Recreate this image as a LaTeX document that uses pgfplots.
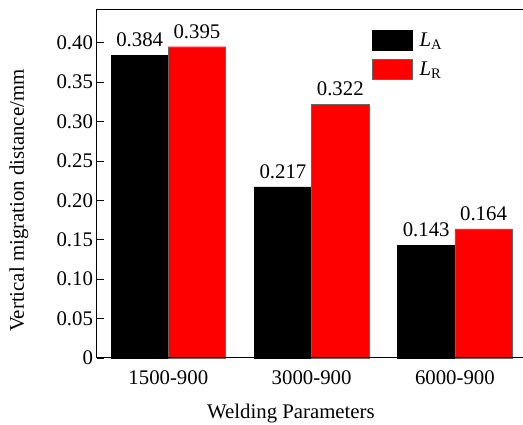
\documentclass[border=0pt]{standalone}
\usepackage{fontspec}
\setmainfont{Liberation Serif}
\usepackage{pgfplots}
\pgfplotsset{compat=1.18}
\begin{document}
\begin{tikzpicture}
\path[use as bounding box] (-96.7pt,-67pt) rectangle (426.3pt,358pt);
\clip (-96.7pt,-67pt) rectangle (426.3pt,358pt);
\begin{axis}[
  at={(0pt,0pt)}, anchor=south west,
  scale only axis,
  width=429.8pt, height=348pt,
  xmin=-0.5, xmax=2.5,
  ymin=0, ymax=0.4416,
  ybar,
  bar width=0.4,
  clip=false,
  axis line style={draw=none},
  /pgf/number format/assume math mode=true,
  font=\fontsize{20.8}{24}\selectfont,
  xtick={0,1,2},
  xticklabels={1500-900,3000-900,6000-900},
  major x tick style={draw=none},
  xticklabel style={inner sep=0pt, yshift=-5pt},
  ytick={0,0.05,0.10,0.15,0.20,0.25,0.30,0.35,0.40},
  yticklabels={0,0.05,0.10,0.15,0.20,0.25,0.30,0.35,0.40},
  yticklabel style={inner sep=0pt, xshift=-3.5pt},
  ytick pos=left,
  ytick align=inside,
  major tick length=7pt,
  ytick style={line width=0.9pt, black},
  xlabel={Welding Parameters},
  xlabel style={at={(axis description cs:0.452,0)}, anchor=base, yshift=-61pt},
  ylabel={Vertical migration distance/mm},
  ylabel style={at={(axis description cs:0,0.452)}, anchor=base, yshift=72.7pt},
  nodes near coords={\pgfmathprintnumber[fixed,precision=3,zerofill]{\pgfplotspointmeta}},
  every node near coord/.append style={anchor=base, inner sep=0pt, yshift=8.5pt, black},
  legend style={at={(axis description cs:0.6405,0.9425)}, anchor=north west, draw=none, fill=none, inner sep=0pt, row sep=8.5pt, column sep=6pt, nodes={inner sep=1pt}},
  legend cell align=left,
  legend image code/.code={\draw[#1] (0pt,-10pt) rectangle (40pt,10pt);},
]
\addplot[fill=black, draw=black, bar shift=-0.2] coordinates {(0,0.384) (1,0.217) (2,0.143)};
\addplot[fill=red, draw=black!60, bar shift=0.2] coordinates {(0,0.395) (1,0.322) (2,0.164)};
\legend{\textit{L}\textsubscript{A},\textit{L}\textsubscript{R}}
\draw[line width=1pt, line cap=rect] (rel axis cs:1.05,1) -- (rel axis cs:0,1) -- (rel axis cs:0,0) -- (rel axis cs:1.05,0);
\end{axis}
\end{tikzpicture}
\end{document}
